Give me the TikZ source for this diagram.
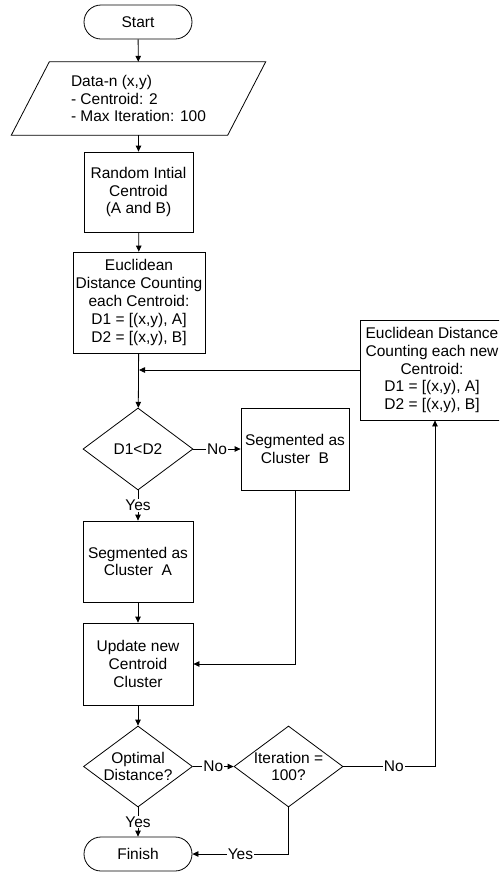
\documentclass[tikz,border=0pt]{standalone}
\usepackage{fontspec}
\setmainfont{Liberation Sans}
\usetikzlibrary{shapes.geometric,shapes.misc,arrows.meta,calc}
\begin{document}
\begin{tikzpicture}[x=1pt,y=-1pt,
  every node/.style={font=\fontsize{15.5}{17.8}\selectfont, align=center, inner sep=1pt},
  box/.style={draw, line width=0.8pt, rectangle},
  term/.style={draw, line width=0.8pt, rounded rectangle, minimum width=110pt, minimum height=34pt},
  dec/.style={draw, line width=0.8pt, diamond, aspect=1.35},
  lbl/.style={fill=white, inner sep=1pt},
  conn/.style={line width=0.8pt, -{Triangle[length=6pt,width=5.5pt]}},
  plain/.style={line width=0.8pt}
]
\useasboundingbox (0,0) rectangle (499,876);
\begin{scope}
\clip (0,0) rectangle (499,876);
\node[term] (start) at (138,22) {Start};
\node[rectangle, minimum width=216pt, minimum height=73pt, align=left] (data) at (138.5,98.5)
  {Data-n (x,y)\\- Centroid: 2\\- Max Iteration: 100};
\draw[line width=0.8pt] ([xshift=19pt]data.north west) -- ([xshift=19pt]data.north east)
  -- ([xshift=-19pt]data.south east) -- ([xshift=-19pt]data.south west) -- cycle;
\node[box, minimum width=109pt, minimum height=80pt] (rand) at (138.5,192) {Random Intial\\Centroid\\(A and B)};
\node[box, minimum width=132pt, minimum height=101pt] (eucl) at (139,302.5)
  {Euclidean\\Distance Counting\\each Centroid:\\D1 = [(x,y), A]\\D2 = [(x,y), B]};
\node[box, minimum width=144pt, minimum height=100pt] (eucl2) at (432,370)
  {Euclidean Distance\\Counting each new\\Centroid:\\D1 = [(x,y), A]\\D2 = [(x,y), B]};
\node[dec, minimum width=110pt, minimum height=82pt, inner sep=0pt] (d1) at (138,449) {D1<D2};
\node[box, minimum width=108pt, minimum height=82pt] (segB) at (295,449) {Segmented as\\Cluster\ \ B};
\node[box, minimum width=110pt, minimum height=81pt] (segA) at (138,561.5) {Segmented as\\Cluster\ \ A};
\node[box, minimum width=110pt, minimum height=82pt] (upd) at (138,664) {Update new\\Centroid\\Cluster};
\node[dec, minimum width=109pt, minimum height=81pt, inner sep=0pt] (opt) at (138,766.5) {Optimal\\Distance?};
\node[dec, minimum width=109pt, minimum height=81pt, inner sep=0pt] (iter) at (288.5,766.5) {Iteration =\\100?};
\node[term] (finish) at (138,854) {Finish};

\coordinate (merge) at (eucl.south |- eucl2.west);
\coordinate (loopup) at (435,766.5);

\draw[conn] (start) -- (data);
\draw[conn] (data) -- (rand);
\draw[conn] (rand) -- (eucl);
\draw[conn] (eucl) -- (d1);
\draw[conn] (eucl2.west) -- (merge);
\draw[conn] (d1.east) -- node[lbl]{No} (segB.west);
\draw[conn] (d1.south) -- node[lbl]{Yes} (segA.north);
\draw[conn] (segA) -- (upd);
\draw[conn] (segB.south) |- (upd.east);
\draw[conn] (upd) -- (opt);
\draw[conn] (opt.east) -- node[lbl]{No} (iter.west);
\draw[conn] (opt.south) -- node[lbl]{Yes} (finish.north);
\draw[conn] (iter.south) |- node[lbl, pos=0.75]{Yes} (finish.east);
\draw[conn] (iter.east) -- node[lbl, pos=0.55]{No} (loopup) -- (loopup |- eucl2.south);
\end{scope}
\end{tikzpicture}
\end{document}
